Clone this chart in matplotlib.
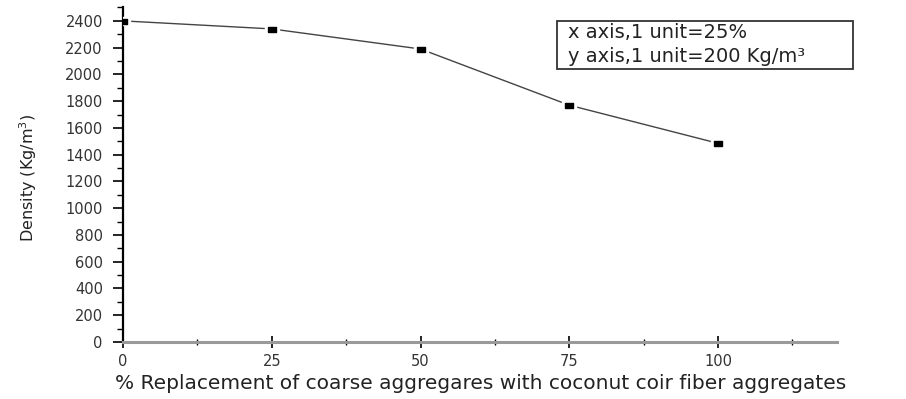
import numpy as np
import matplotlib.pyplot as plt
from matplotlib.patches import Rectangle
from matplotlib.ticker import MultipleLocator

# values
replacement = [0, 25, 50, 75, 100]
density = [2400, 2340, 2190, 1770, 1485]
x_ticks = [0, 25, 50, 75, 100]
y_ticks = list(range(0, 2401, 200))
note_lines = ["x axis,1 unit=25%", "y axis,1 unit=200 Kg/m\u00b3"]

W, H = 906, 399
fig = plt.figure(figsize=(W / 100, H / 100), dpi=100)
ax = fig.add_axes([123 / W, 1 - 342 / H, (837 - 123) / W, (342 - 7.5) / H])

# flat rectangular marker like the original software output
rect = [(-1, -0.6), (1, -0.6), (1, 0.6), (-1, 0.6), (-1, -0.6)]
ax.plot(replacement, density, color='#444444', lw=1.0, zorder=2)
ax.plot(replacement, density, ls='none', marker=rect, ms=10, color='white', zorder=3)
ax.plot(replacement, density, ls='none', marker=rect, ms=6, color='black', zorder=4)

ax.set_xlim(0, 120)
ax.set_ylim(0, 2500)
ax.set_xticks(x_ticks)
ax.set_yticks(y_ticks)
ax.xaxis.set_minor_locator(MultipleLocator(12.5))
ax.yaxis.set_minor_locator(MultipleLocator(100))

ax.spines['top'].set_visible(False)
ax.spines['right'].set_visible(False)
ax.spines['left'].set_linewidth(1.6)
ax.spines['left'].set_color('black')
ax.spines['bottom'].set_linewidth(2.2)
ax.spines['bottom'].set_color('#9a9a9a')

ax.tick_params(axis='y', which='major', direction='out', length=7.5, width=1.2,
               labelsize=10.5, labelcolor='#333333', pad=7)
ax.tick_params(axis='y', which='minor', direction='out', length=4, width=1.0)
ax.tick_params(axis='x', which='major', direction='inout', length=8, width=1.2,
               labelsize=10.5, labelcolor='#333333', pad=5)
ax.tick_params(axis='x', which='minor', direction='inout', length=5, width=1.0)

ax.set_xlabel("% Replacement of coarse aggregares with coconut coir fiber aggregates",
              fontsize=14.5, color='#222222')
ax.xaxis.set_label_coords((481 - 123) / 714, -0.095)
ax.set_ylabel("Density (Kg/m$^3$)", fontsize=11.5, color='#222222')
ax.yaxis.set_label_coords(-84 / 714, 0.49)

# note box in the upper right
fig.patches.append(Rectangle((557 / W, 1 - 69 / H), (853 - 557) / W, 48 / H,
                             transform=fig.transFigure, fill=False,
                             edgecolor='#333333', lw=1.3))
for i, line in enumerate(note_lines):
    fig.text(568 / W, 1 - (33 + 24 * i) / H, line, fontsize=14,
             color='#222222', va='center', ha='left')

fig.savefig('out.png', dpi=100)
